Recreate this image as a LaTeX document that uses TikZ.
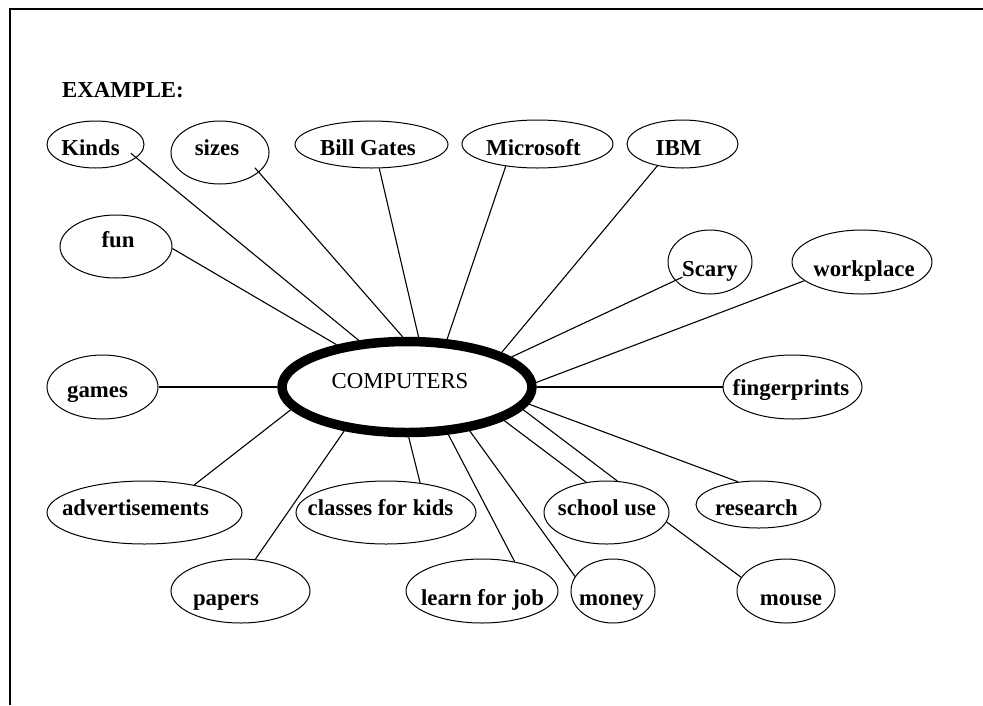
\documentclass[tikz,border=0pt]{standalone}
\usepackage{fontspec}
\setmainfont{Liberation Serif}
\usetikzlibrary{shapes.geometric}
\begin{document}
\begin{tikzpicture}[x=1pt,y=-1pt,
  bub/.style={draw, ellipse, line width=1pt, inner sep=0pt},
  lbl/.style={anchor=base, inner sep=0pt, font=\fontsize{22.8}{27}\selectfont\bfseries},
  spoke/.style={line width=1.1pt}]
  \useasboundingbox (0,0) rectangle (983,705);
  \draw[line width=1.3pt] (10,705) -- (10,9) -- (983,9);
  \node[lbl, anchor=base west] (title) at (62,97) {EXAMPLE:};

  \node[bub, line width=9.5pt, minimum width=250pt, minimum height=91pt] (comp) at (407,387) {};
  \node[lbl, font=\fontsize{22.8}{27}\selectfont] (t-comp) at (400,388) {COMPUTERS};

  \node[bub, minimum width=97pt, minimum height=47pt] (kinds) at (95.5,144.5) {};
  \node[lbl] (t-kinds) at (90.5,155) {Kinds};
  \node[bub, minimum width=98pt, minimum height=63pt] (sizes) at (220,152.5) {};
  \node[lbl] (t-sizes) at (217,155) {sizes};
  \node[bub, minimum width=153pt, minimum height=47pt] (gates) at (371.5,144.5) {};
  \node[lbl] (t-gates) at (368,155) {Bill Gates};
  \node[bub, minimum width=151pt, minimum height=48pt] (msoft) at (537.5,144) {};
  \node[lbl] (t-msoft) at (533.5,155) {Microsoft};
  \node[bub, minimum width=111pt, minimum height=48pt] (ibm) at (682.5,144) {};
  \node[lbl] (t-ibm) at (678.5,155) {IBM};
  \node[bub, minimum width=112pt, minimum height=63pt] (fun) at (116,246.5) {};
  \node[lbl] (t-fun) at (118,247) {fun};
  \node[bub, minimum width=84pt, minimum height=64pt] (scary) at (710,262) {};
  \node[lbl] (t-scary) at (710,276) {Scary};
  \node[bub, minimum width=140pt, minimum height=64pt] (work) at (862,262) {};
  \node[lbl] (t-work) at (864,276) {workplace};
  \node[bub, minimum width=111pt, minimum height=64pt] (games) at (102.5,387) {};
  \node[lbl] (t-games) at (97.5,397) {games};
  \node[bub, minimum width=139pt, minimum height=64pt] (finger) at (792.5,387) {};
  \node[lbl] (t-finger) at (791,395) {fingerprints};
  \node[bub, minimum width=195pt, minimum height=63pt] (adv) at (144.5,512.5) {};
  \node[lbl] (t-adv) at (135.5,515) {advertisements};
  \node[bub, minimum width=180pt, minimum height=63pt] (classes) at (386,512.5) {};
  \node[lbl] (t-classes) at (380.5,515) {classes for kids};
  \node[bub, minimum width=125pt, minimum height=63pt] (school) at (606.5,512.5) {};
  \node[lbl] (t-school) at (607,515) {school use};
  \node[bub, minimum width=125pt, minimum height=47pt] (research) at (758.5,504.5) {};
  \node[lbl] (t-research) at (756.5,515) {research};
  \node[bub, minimum width=139pt, minimum height=64pt] (papers) at (240.5,591) {};
  \node[lbl] (t-papers) at (226,605) {papers};
  \node[bub, minimum width=152pt, minimum height=64pt] (learn) at (482,591) {};
  \node[lbl] (t-learn) at (482.5,605) {learn for job};
  \node[bub, minimum width=84pt, minimum height=64pt] (money) at (613,591) {};
  \node[lbl] (t-money) at (611.5,605) {money};
  \node[bub, minimum width=98pt, minimum height=64pt] (mouse) at (786,591) {};
  \node[lbl] (t-mouse) at (791,605) {mouse};

  \draw[spoke, shorten <=-7pt] (kinds.-18) -- (comp.136);
  \draw[spoke, shorten <=-6pt] (sizes.-27) -- (comp.95);
  \draw[spoke] (gates.-72) -- (comp.77);
  \draw[spoke] (msoft.-145) -- (comp.50);
  \draw[spoke] (ibm.-139) -- (comp.20);
  \draw[spoke] (fun.-2) -- (comp.149);
  \draw[spoke, shorten <=-8pt] (scary.-152) -- (comp.16);
  \draw[spoke] (work.-162) -- (comp.2);
  \draw[spoke] (finger.west) -- (comp.east);
  \draw[spoke] (research.132) -- (comp.-8);
  \draw[spoke] (school.71) -- (comp.-11);
  \draw[spoke] (school.124) -- (comp.-19);
  \draw[spoke] (school.-9) -- (mouse.163);
  \draw[spoke] (money.159) -- (comp.-35);
  \draw[spoke] (learn.42) -- (comp.-49);
  \draw[spoke] (classes.41) -- (comp.-88);
  \draw[spoke] (papers.65) -- (comp.-145);
  \draw[spoke] (adv.29) -- (comp.-169);
  \draw[spoke] (games.east) -- (comp.west);
\end{tikzpicture}
\end{document}
